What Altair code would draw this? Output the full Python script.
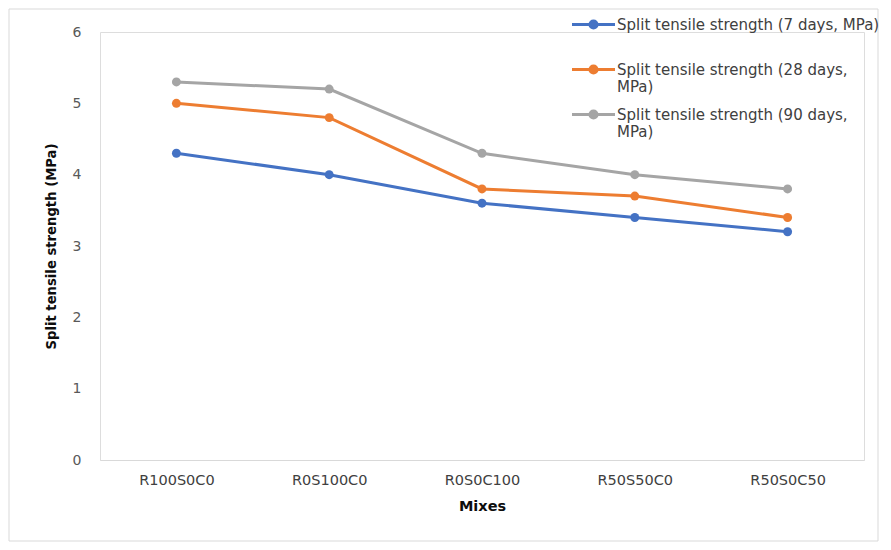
import altair as alt
import pandas as pd

mixes = ["R100S0C0", "R0S100C0", "R0S0C100", "R50S50C0", "R50S0C50"]
series = [
    "Split tensile strength (7 days, MPa)",
    "Split tensile strength (28 days, MPa)",
    "Split tensile strength (90 days, MPa)",
]
s7 = [4.3, 4.0, 3.6, 3.4, 3.2]
s28 = [5.0, 4.8, 3.8, 3.7, 3.4]
s90 = [5.3, 5.2, 4.3, 4.0, 3.8]
colors = ["#4472C4", "#ED7D31", "#A5A5A5"]

rows = []
for name, vals in zip(series, [s7, s28, s90]):
    for m, v in zip(mixes, vals):
        rows.append({"Mix": m, "Series": name, "Value": v})
df = pd.DataFrame(rows)

FONT = "DejaVu Sans"
W, H = 764, 428

# legend symbol: a line with a dot, path spans [-2, 2] horizontally, shifted down
sym = ("M-2,0.65H2M-0.33,0.65A0.33,0.33,0,1,1,0.33,0.65"
       "A0.33,0.33,0,1,1,-0.33,0.65Z")

label_expr = ("indexof(datum.label, '7 days') >= 0 ? [datum.label, ''] : "
              "split(replace(datum.label, ' MPa)', '|MPa)'), '|')")

base = alt.Chart(df).encode(
    x=alt.X("Mix:N", sort=mixes, scale=alt.Scale(type="point", padding=0.5),
            axis=alt.Axis(title="Mixes", labelAngle=0, ticks=False, domainColor="#D9D9D9",
                          labelColor="#404040", labelFontSize=14.5, labelFont=FONT,
                          labelPadding=13, titleFont=FONT, titleFontSize=14.5,
                          titleColor="#0D0D0D", titleFontWeight="bold", titlePadding=13,
                          grid=False)),
    y=alt.Y("Value:Q", scale=alt.Scale(domain=[0, 6]),
            axis=alt.Axis(title="Split tensile strength (MPa)", values=[0, 1, 2, 3, 4, 5, 6],
                          ticks=False, domain=False, grid=False, labelColor="#595959",
                          labelFontSize=14, labelFont=FONT, labelPadding=19,
                          titleFont=FONT, titleFontSize=13.2, titleColor="#0D0D0D",
                          titleFontWeight="bold", titlePadding=14)),
    color=alt.Color("Series:N", scale=alt.Scale(domain=series, range=colors),
                    legend=alt.Legend(title=None, orient="none", legendX=481, legendY=-27,
                                      symbolType=sym, symbolSize=462, symbolStrokeWidth=3,
                                      labelFont=FONT, labelFontSize=15, labelColor="#404040",
                                      labelExpr=label_expr, labelLimit=400, labelOffset=11,
                                      labelBaseline="top", rowPadding=0)),
)

lines = base.mark_line(strokeWidth=3)
points = base.mark_point(filled=True, size=80, opacity=1)

frame = alt.Chart(pd.DataFrame({"a": [0]})).mark_rect(
    fill=None, stroke="#D9D9D9", strokeWidth=1
).encode(x=alt.value(-91), x2=alt.value(778), y=alt.value(-23), y2=alt.value(509))

chart = alt.layer(frame, lines, points).properties(
    width=W, height=H,
    autosize=alt.AutoSizeParams(type="none"),
    padding={"left": 92, "top": 24, "right": 19, "bottom": 82},
).configure_view(stroke=None).configure(
    background="white",
    style={"guide-label": {"lineHeight": 17}},
)

chart.save("out.html", embed_options={"renderer": "svg", "actions": False})
